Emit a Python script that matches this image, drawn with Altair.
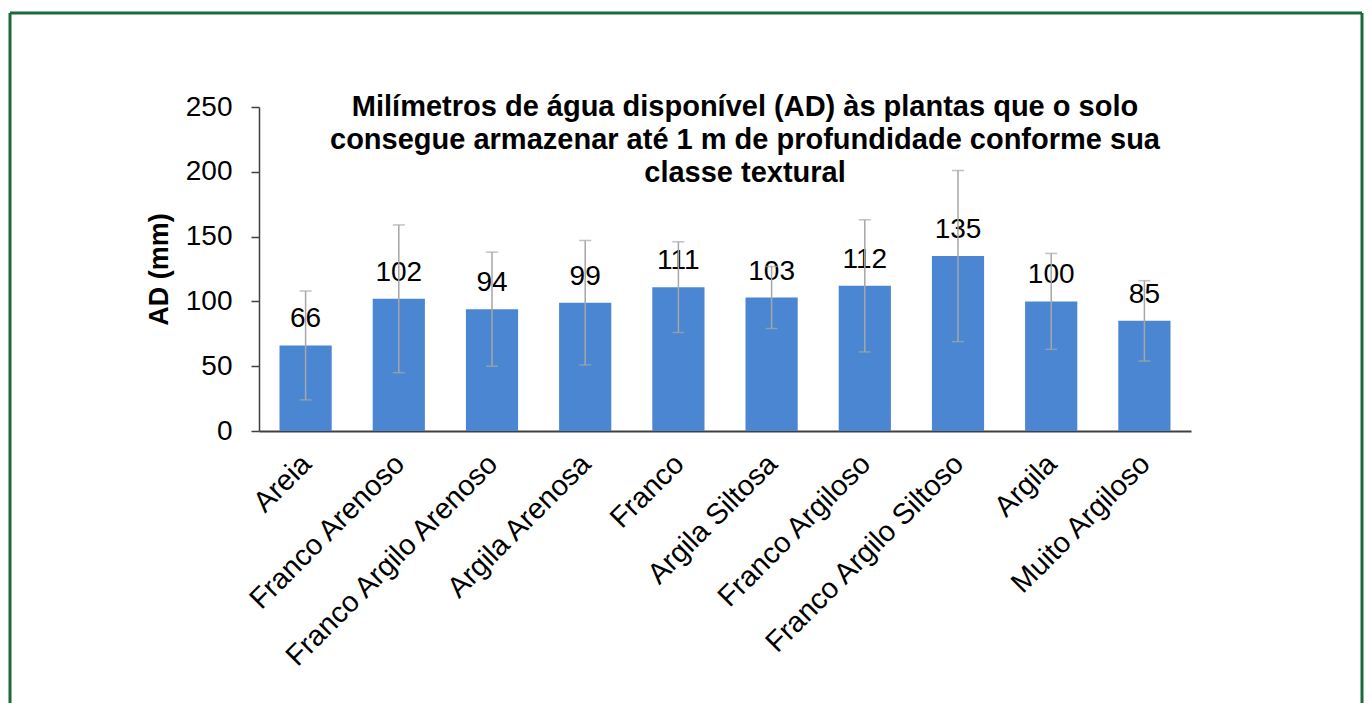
import altair as alt
import pandas as pd

categories = ["Areia", "Franco Arenoso", "Franco Argilo Arenoso", "Argila Arenosa",
              "Franco", "Argila Siltosa", "Franco Argiloso", "Franco Argilo Siltoso",
              "Argila", "Muito Argiloso"]
values = [66, 102, 94, 99, 111, 103, 112, 135, 100, 85]
errors = [42, 57, 44, 48, 35, 24, 51, 66, 37, 31]
y_ticks = [0, 50, 100, 150, 200, 250]
title_lines = ["Milímetros de água disponível (AD) às plantas que o solo",
               "consegue armazenar até 1 m de profundidade conforme sua",
               "classe textural"]

df = pd.DataFrame({"cat": categories, "val": values, "err": errors})
df["lo"] = df["val"] - df["err"]
df["hi"] = df["val"] + df["err"]

FONT = "Liberation Sans"
W, H = 932, 324

x = alt.X("cat:N", sort=categories, title=None,
          scale=alt.Scale(paddingInner=0.44, paddingOuter=0.22),
          axis=alt.Axis(labelAngle=-45, labelFontSize=29, labelFont=FONT, labelColor="black",
                        labelPadding=18, labelOffset=-9, ticks=False, domainColor="#404040",
                        domainWidth=2, labelAlign="right", labelBaseline="top", labelLimit=0))
y = alt.Y("val:Q", title="AD (mm)",
          scale=alt.Scale(domain=[0, 250], nice=False),
          axis=alt.Axis(values=y_ticks, labelFontSize=28, labelFont=FONT, labelColor="black",
                        labelPadding=19, tickSize=8, tickColor="#404040", tickWidth=1.5,
                        domainColor="#404040", domainWidth=1.5, grid=False,
                        titleFontSize=27, titleFont=FONT, titleFontWeight="bold",
                        titleColor="black", titlePadding=12))

base = alt.Chart(df)
bars = base.mark_bar(color="#4a86d1").encode(x=x, y=y)
err_rule = base.mark_rule(color="#a6a6a6", strokeWidth=1.5).encode(
    x=alt.X("cat:N", sort=categories), y="lo:Q", y2="hi:Q")
cap_lo = base.mark_tick(color="#a6a6a6", thickness=1.5, size=12, orient="horizontal").encode(
    x=alt.X("cat:N", sort=categories), y="lo:Q")
cap_hi = base.mark_tick(color="#a6a6a6", thickness=1.5, size=12, orient="horizontal").encode(
    x=alt.X("cat:N", sort=categories), y="hi:Q")
labels = base.mark_text(fontSize=28, font=FONT, color="black", baseline="alphabetic", dy=-18).encode(
    x=alt.X("cat:N", sort=categories), y="val:Q", text="val:Q")

one = pd.DataFrame({"k": [0]})
title = alt.Chart(one).mark_text(text=title_lines, fontSize=29, fontWeight="bold", font=FONT,
                                 color="black", align="center", baseline="top", lineHeight=33).encode(
    x=alt.value(W / 2 + 20), y=alt.value(-14))

GREEN = "#1a6b3c"
left = alt.Chart(one).mark_rule(color=GREEN, strokeWidth=3).encode(
    x=alt.value(-249), y=alt.value(-94), y2=alt.value(596))
right = alt.Chart(one).mark_rule(color=GREEN, strokeWidth=3).encode(
    x=alt.value(1103), y=alt.value(-94), y2=alt.value(596))
top = alt.Chart(one).mark_rule(color=GREEN, strokeWidth=3).encode(
    x=alt.value(-249), x2=alt.value(1103), y=alt.value(-94))

chart = alt.layer(bars, labels, err_rule, cap_lo, cap_hi, title, left, right, top).properties(
    width=W, height=H,
    padding={"left": 0, "top": 3, "right": 0, "bottom": 0},
).configure_view(stroke=None)

chart.save("out.html", embed_options={"renderer": "svg", "actions": False})
